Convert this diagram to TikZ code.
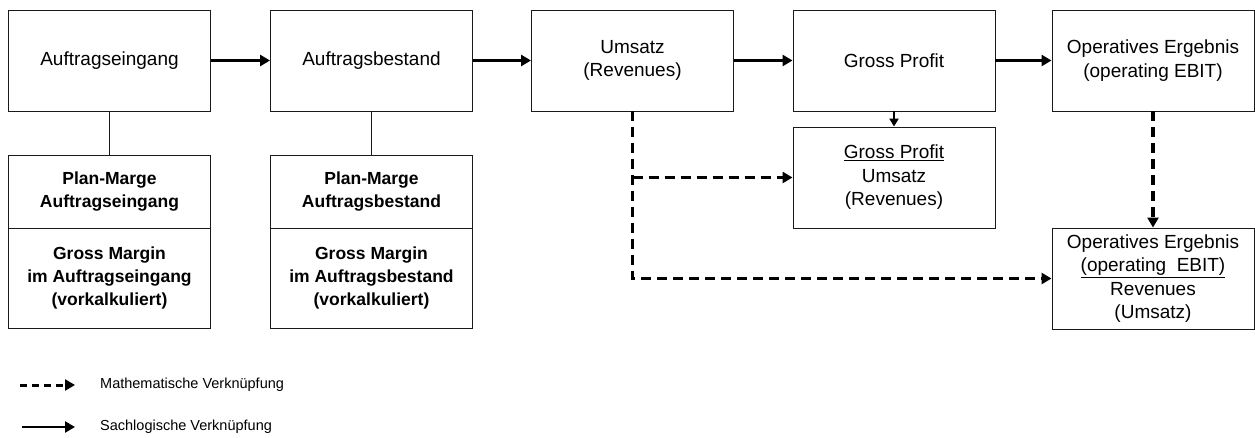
\documentclass[tikz,border=0pt]{standalone}
\usepackage{fontspec}
\setmainfont{Liberation Sans}
\usetikzlibrary{arrows.meta}
\definecolor{cRahmen}{HTML}{1A1A1A}
\tikzset{
    x=1pt, y=-1pt, font=\fontsize{19}{23.5}\selectfont,
    kasten/.style={draw=cRahmen, line width=0.9pt, align=center, inner sep=2pt,
                   minimum width=202pt, minimum height=101pt},
    marge/.style={kasten, font=\fontsize{17.5}{23}\selectfont\bfseries},
    sach/.style={-{Triangle[length=10pt, width=11pt]}, line width=3.4pt, black},
    sachd/.style={-{Triangle[length=8pt, width=9pt]}, line width=2.6pt, black},
    mathe/.style={-{Triangle[length=10pt, width=11pt]}, line width=3.4pt, black,
                  dash pattern=on 10pt off 6pt},
    legtxt/.style={font=\fontsize{14.5}{17}\selectfont, anchor=west, inner sep=0pt},
}

\begin{document}
\begin{tikzpicture}
    \useasboundingbox (0,0) rectangle (1255,438);

    % obere Reihe
    \node[kasten] (ae) at (109.5,60.5) {Auftragseingang};
    \node[kasten] (ab) at (371.5,60.5) {Auftragsbestand};
    \node[kasten] (um) at (632.5,60.5) {Umsatz\\(Revenues)};
    \node[kasten] (gp) at (894,60.5) {Gross Profit};
    \node[kasten] (oe) at (1153,60.5) {Operatives Ergebnis\\(operating EBIT)};

    % Margen
    \node[marge, minimum height=73pt] (pm1) at (109.5,191.5) {Plan-Marge\\Auftragseingang};
    \node[marge, minimum height=100pt] (gm1) at (109.5,278) {Gross Margin\\im Auftragseingang\\(vorkalkuliert)};
    \node[marge, minimum height=73pt] (pm2) at (371.5,191.5) {Plan-Marge\\Auftragsbestand};
    \node[marge, minimum height=100pt] (gm2) at (371.5,278) {Gross Margin\\im Auftragsbestand\\(vorkalkuliert)};

    % Kennzahlen
    \node[kasten] (gpu) at (894,177.5) {\underline{Gross Profit}\\Umsatz\\(Revenues)};
    \node[kasten] (oeu) at (1153,278.5)
        {Operatives Ergebnis\\\underline{(operating\ \ EBIT)}\\Revenues\\(Umsatz)};

    \draw[line width=0.9pt, cRahmen] (ae) -- (pm1);
    \draw[line width=0.9pt, cRahmen] (ab) -- (pm2);

    \draw[sach] (ae) -- (ab);
    \draw[sach] (ab) -- (um);
    \draw[sach] (um) -- (gp);
    \draw[sach] (gp) -- (oe);
    \draw[sachd] (gp) -- (gpu);

    \draw[mathe] (um.south) |- (oeu.west);
    \draw[mathe] (um.south |- gpu.west) -- (gpu.west);
    \draw[mathe] (oe) -- (oeu);

    % Legende
    \coordinate (m0) at (20,385);
    \coordinate (m1) at (75,385);
    \coordinate (s0) at (22,427);
    \coordinate (s1) at (75,427);
    \draw[mathe, line width=3pt, dash pattern=on 7pt off 5pt] (m0) -- (m1);
    \draw[sach, line width=2.4pt] (s0) -- (s1);
    \node[legtxt] (lm) at (100,385) {Mathematische Verknüpfung};
    \node[legtxt] (ls) at (100,427) {Sachlogische Verknüpfung};
\end{tikzpicture}
\end{document}
